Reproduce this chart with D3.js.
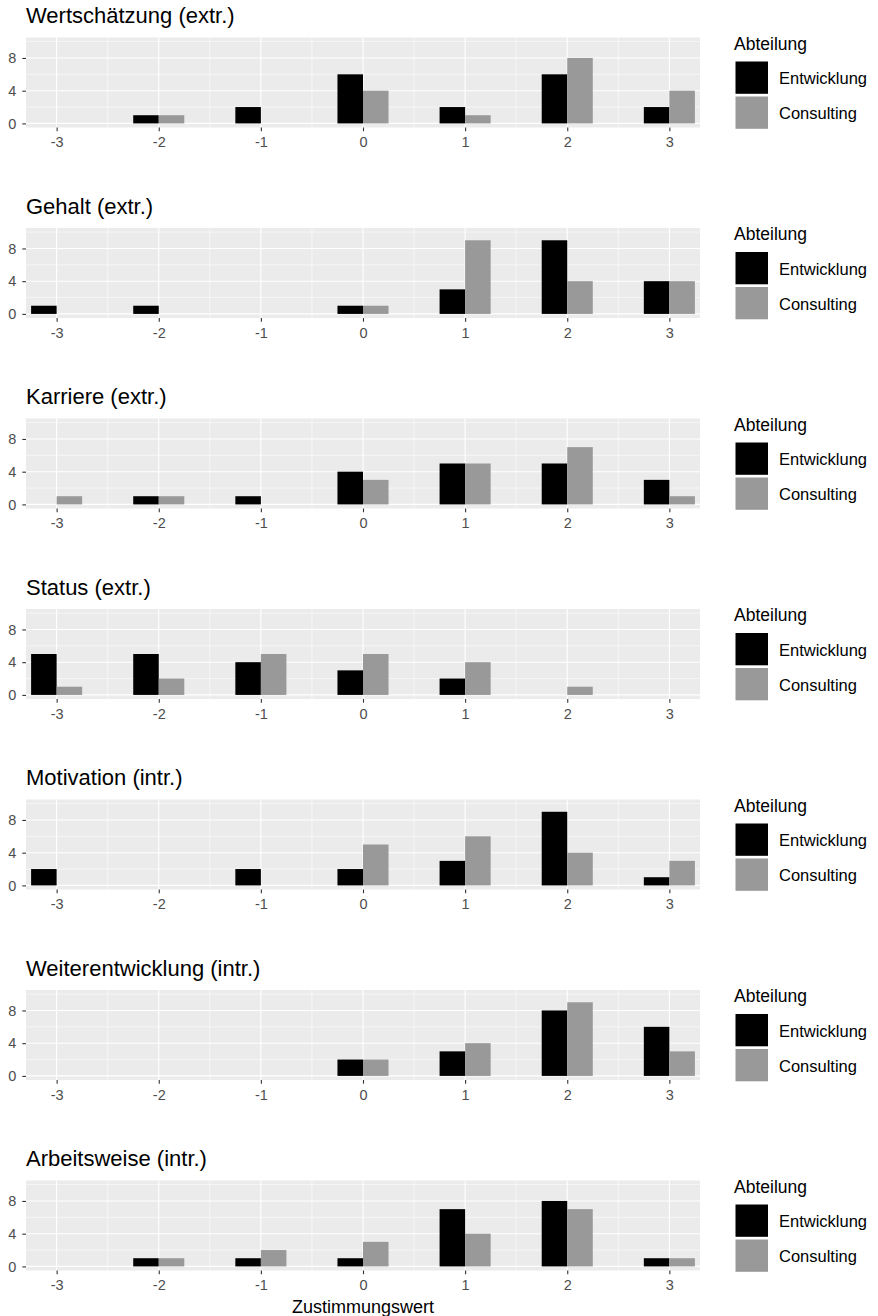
<!DOCTYPE html>
<html>
<head>
<meta charset="utf-8">
<script src="https://cdn.jsdelivr.net/npm/d3@7/dist/d3.min.js"></script>
<style>
  body { margin: 0; background: #fff; }
  svg { display: block; font-family: "Liberation Sans", Arial, Helvetica, sans-serif; }
</style>
</head>
<body>
<svg id="chart" width="878" height="1316"></svg>
<script>
// ---- data ----
const categories = [-3, -2, -1, 0, 1, 2, 3];
const xTickLabels = ["-3", "-2", "-1", "0", "1", "2", "3"];
const yTicks = [0, 4, 8];
const groups = ["Entwicklung", "Consulting"];
const titles = [
  "Wertschätzung (extr.)",
  "Gehalt (extr.)",
  "Karriere (extr.)",
  "Status (extr.)",
  "Motivation (intr.)",
  "Weiterentwicklung (intr.)",
  "Arbeitsweise (intr.)"
];
// counts per category (-3..3)
const entwicklung = [
  [0, 1, 2, 6, 2, 6, 2],
  [1, 1, 0, 1, 3, 9, 4],
  [0, 1, 1, 4, 5, 5, 3],
  [5, 5, 4, 3, 2, 0, 0],
  [2, 0, 2, 2, 3, 9, 1],
  [0, 0, 0, 2, 3, 8, 6],
  [0, 1, 1, 1, 7, 8, 1]
];
const consulting = [
  [0, 1, 0, 4, 1, 8, 4],
  [0, 0, 0, 1, 9, 4, 4],
  [1, 1, 0, 3, 5, 7, 1],
  [1, 2, 5, 5, 4, 1, 0],
  [0, 0, 0, 5, 6, 4, 3],
  [0, 0, 0, 2, 4, 9, 3],
  [0, 1, 2, 3, 4, 7, 1]
];
const xTitle = "Zustimmungswert";
const legendTitle = "Abteilung";

// ---- layout ----
const svg = d3.select("#chart");
const panelLeft = 26, panelRight = 700;
const panelTop0 = 37.5, panelH = 90, step = 190.5;
const fillScale = d3.scaleOrdinal().domain(groups).range(["#000000", "#999999"]);
const x = d3.scaleLinear().domain([-3.3, 3.3]).range([panelLeft, panelRight]);
const barW = 0.25;

titles.forEach((title, i) => {
  const top = panelTop0 + step * i;
  const g = svg.append("g");
  const y = d3.scaleLinear().domain([-0.5, 10.5]).range([top + panelH, top]);

  // panel background
  g.append("rect")
    .attr("x", panelLeft).attr("y", top)
    .attr("width", panelRight - panelLeft).attr("height", panelH)
    .attr("fill", "#EBEBEB");

  // minor grid
  const xMinor = [-2.5, -1.5, -0.5, 0.5, 1.5, 2.5];
  const yMinor = [2, 6, 10];
  g.selectAll(".xminor").data(xMinor).enter().append("line")
    .attr("x1", d => x(d)).attr("x2", d => x(d))
    .attr("y1", top).attr("y2", top + panelH)
    .attr("stroke", "#fff").attr("stroke-width", 0.55);
  g.selectAll(".yminor").data(yMinor).enter().append("line")
    .attr("x1", panelLeft).attr("x2", panelRight)
    .attr("y1", d => y(d)).attr("y2", d => y(d))
    .attr("stroke", "#fff").attr("stroke-width", 0.55);
  // major grid
  g.selectAll(".xmajor").data(categories).enter().append("line")
    .attr("x1", d => x(d)).attr("x2", d => x(d))
    .attr("y1", top).attr("y2", top + panelH)
    .attr("stroke", "#fff").attr("stroke-width", 1.1);
  g.selectAll(".ymajor").data(yTicks).enter().append("line")
    .attr("x1", panelLeft).attr("x2", panelRight)
    .attr("y1", d => y(d)).attr("y2", d => y(d))
    .attr("stroke", "#fff").attr("stroke-width", 1.1);

  // bars
  const rows = [];
  categories.forEach((c, k) => {
    rows.push({ cat: c, grp: groups[0], v: entwicklung[i][k], off: -barW / 2 });
    rows.push({ cat: c, grp: groups[1], v: consulting[i][k], off: barW / 2 });
  });
  g.selectAll(".bar").data(rows.filter(r => r.v > 0)).enter().append("rect")
    .attr("x", r => x(r.cat + r.off - barW / 2))
    .attr("width", r => x(r.cat + r.off + barW / 2) - x(r.cat + r.off - barW / 2))
    .attr("y", r => y(r.v))
    .attr("height", r => y(0) - y(r.v))
    .attr("fill", r => fillScale(r.grp));

  // x axis
  const xAxis = d3.axisBottom(x).tickValues(categories)
    .tickFormat((d, k) => xTickLabels[k]).tickSize(3.7).tickPadding(5.8);
  const gx = g.append("g").attr("transform", `translate(0,${top + panelH})`).call(xAxis);
  gx.select(".domain").remove();
  gx.selectAll(".tick line").attr("stroke", "#333333").attr("stroke-width", 1.1);
  gx.selectAll(".tick text").attr("fill", "#4D4D4D").style("font-size", "14.5px")
    .style("font-family", "'Liberation Sans', Arial, sans-serif");

  // y axis
  const yAxis = d3.axisLeft(y).tickValues(yTicks).tickSize(3.7).tickPadding(6);
  const gy = g.append("g").attr("transform", `translate(${panelLeft},0)`).call(yAxis);
  gy.select(".domain").remove();
  gy.selectAll(".tick line").attr("stroke", "#333333").attr("stroke-width", 1.1);
  gy.selectAll(".tick text").attr("fill", "#4D4D4D").style("font-size", "14.5px")
    .style("font-family", "'Liberation Sans', Arial, sans-serif");

  // title
  g.append("text")
    .attr("x", panelLeft).attr("y", top - 14.5)
    .attr("fill", "#000").style("font-size", "22px")
    .text(title);

  // legend
  const lg = g.append("g");
  lg.append("text").attr("x", 734).attr("y", top + 12)
    .attr("fill", "#000").style("font-size", "17.5px").text(legendTitle);
  groups.forEach((grp, k) => {
    const ky = top + 24 + k * 35;
    lg.append("rect").attr("x", 735.5).attr("y", ky)
      .attr("width", 32.5).attr("height", 32.3)
      .attr("fill", fillScale(grp));
    lg.append("text").attr("x", 779).attr("y", ky + 16.5 + 6)
      .attr("fill", "#000").style("font-size", "16.5px").text(grp);
  });

  if (i === titles.length - 1) {
    g.append("text")
      .attr("x", (panelLeft + panelRight) / 2).attr("y", top + panelH + 42.5)
      .attr("text-anchor", "middle")
      .attr("fill", "#000").style("font-size", "18px")
      .text(xTitle);
  }
});
</script>
</body>
</html>
